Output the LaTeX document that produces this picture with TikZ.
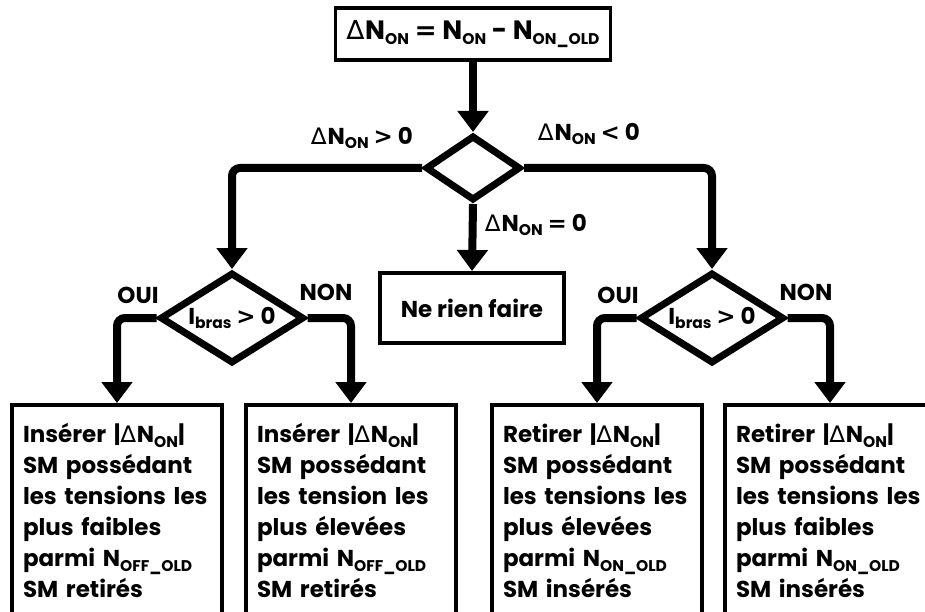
\documentclass[tikz,border=0pt]{standalone}
\usepackage{fontspec}
\setmainfont{Poppins}
\newfontfamily\deltafont{DejaVu Sans}
\usetikzlibrary{shapes.geometric,arrows.meta,positioning}

\newcommand{\dlt}{{\deltafont\mdseries ∆}\kern1pt}
\newcommand{\ix}[1]{\raisebox{-0.35ex}{\fontsize{15.5}{15.5}\selectfont #1}}
\newcommand{\rel}[1]{{\deltafont\bfseries #1}}

\tikzset{
  box/.style={draw, rectangle, line width=3.5pt, inner xsep=11pt, inner ysep=0pt,
    font=\fontsize{23}{31}\selectfont\bfseries},
  result/.style={box, anchor=north, minimum width=210pt, minimum height=212pt,
    text width=188pt, align=left},
  choice/.style={draw, diamond, aspect=1.6, line width=7pt, inner sep=0pt,
    font=\fontsize{23}{23}\selectfont\bfseries},
  flow/.style={line width=8pt, rounded corners=8pt, -{Triangle[width=30pt,length=21pt]}},
  tag/.style={inner sep=0pt, font=\fontsize{23}{23}\selectfont\bfseries},
}

\begin{document}
\begin{tikzpicture}[x=1pt,y=-1pt]
\useasboundingbox (0,0) rectangle (925,612);
\clip (0,0) rectangle (925,612);

% first test on the difference
\node[box, minimum width=266pt, minimum height=52pt, font=\fontsize{26.5}{26.5}\selectfont\bfseries]
  (diff) at (473,34) {\dlt N\ix{ON} \rel{=} N\ix{ON} - N\ix{ON\_OLD}};
\node[choice, minimum width=95pt, minimum height=65pt] (sign) at (473,168) {};
\node[box, line width=4pt, minimum width=184pt, minimum height=70pt] (nothing) at (472,308) {Ne rien faire};

% current direction
\node[choice, minimum width=144pt, minimum height=91pt] (iplus) at (232,318) {I\ix{bras} \rel{>} 0};
\node[choice, minimum width=144pt, minimum height=91pt] (iminus) at (712,318) {I\ix{bras} \rel{>} 0};

% actions
\node[result] (insLow) at (117,403) {Insérer |\dlt N\ix{ON}|\\SM possédant\\les tensions les\\plus faibles\\parmi N\ix{OFF\_OLD}\\SM retirés};
\node[result] (insHigh) at (351,403) {Insérer |\dlt N\ix{ON}|\\SM possédant\\les tension les\\plus élevées\\parmi N\ix{OFF\_OLD}\\SM retirés};
\node[result] (remHigh) at (597,403) {Retirer |\dlt N\ix{ON}|\\SM possédant\\les tensions les\\plus élevées\\parmi N\ix{ON\_OLD}\\SM insérés};
\node[result] (remLow) at (830,403) {Retirer |\dlt N\ix{ON}|\\SM possédant\\les tensions les\\plus faibles\\parmi N\ix{ON\_OLD}\\SM insérés};

\draw[flow] (diff) -- (sign);
\draw[flow] (sign.west) -| (iplus.north);
\draw[flow] (sign.east) -| (iminus.north);
\draw[flow] (sign.south) -- (nothing.north);
\draw[flow] (iplus.west) -| (insLow.north);
\draw[flow] (iplus.east) -| (insHigh.north);
\draw[flow] (iminus.west) -| (remHigh.north);
\draw[flow] (iminus.east) -| (remLow.north);

\node[tag] (pos) at (362,138) {\dlt N\ix{ON} \rel{>} 0};
\node[tag] (neg) at (589,134) {\dlt N\ix{ON} \rel{<} 0};
\node[tag] (zero) at (536,225) {\dlt N\ix{ON} \rel{=} 0};
\node[tag] (yesL) at (138,295) {OUI};
\node[tag] (noL) at (326,292) {NON};
\node[tag] (yesR) at (618,295) {OUI};
\node[tag] (noR) at (806,292) {NON};
\end{tikzpicture}
\end{document}
